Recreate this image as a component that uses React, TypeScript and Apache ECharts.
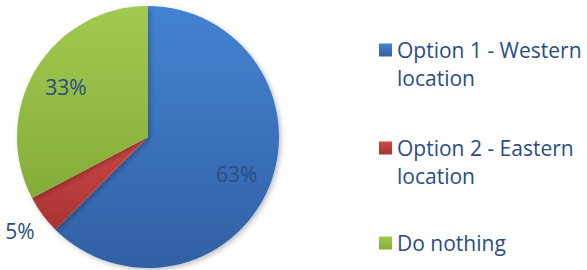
import React, { useEffect, useRef } from "react";
import * as echarts from "echarts";

// ---- data ----
const categories = [
  "Option 1 - Western location",
  "Option 2 - Eastern location",
  "Do nothing",
];
const legendLines = [
  ["Option 1 - Western", "location"],
  ["Option 2 - Eastern", "location"],
  ["Do nothing"],
];
const shares = [62.5, 4.8, 32.7];

// ---- styles ----
const sliceColors = [
  ["#4383D3", "#3260A4"],
  ["#CD4745", "#A83333"],
  ["#A2CA52", "#84AC38"],
];
const textColor = "#2A4D80";
const fontFamily = "'Open Sans', 'Liberation Sans', sans-serif";
const fontSize = 21;
const lineH = 28;
// which ring each slice's label sits on
const labelRing = [1, 2, 1];
const legendTops = [8, 106, 229];

const grad = (c: string[]) => ({
  type: "linear",
  x: 0,
  y: 0,
  x2: 0,
  y2: 1,
  colorStops: [
    { offset: 0, color: c[0] },
    { offset: 1, color: c[1] },
  ],
});

export default function App() {
  const ref = useRef<HTMLDivElement>(null);
  useEffect(() => {
    document.body.style.margin = "0";
    if (!ref.current) return;
    const chart = echarts.init(ref.current, null, { renderer: "svg" });
    const center = [148, 137];
    const fmt = (p: any) => Math.round(p.percent) + "%";

    const labelSeries = (ring: number, radius: number) => ({
      type: "pie",
      center,
      radius: [0, radius],
      silent: true,
      startAngle: 90,
      clockwise: true,
      emphasis: { disabled: true },
      labelLine: { show: false },
      itemStyle: { color: "transparent", borderWidth: 0 },
      data: categories.map((name, i) => ({
        name,
        value: shares[i],
        itemStyle: { color: "transparent" },
        label: {
          show: labelRing[i] === ring,
          position: "inside",
          formatter: fmt,
          color: textColor,
          fontFamily,
          fontSize,
        },
      })),
    });

    const option: any = {
      animation: false,
      legend: categories.map((name, i) => ({
        orient: "vertical",
        left: 379,
        top: legendTops[i],
        padding: 0,
        itemWidth: 13,
        itemHeight: 13,
        icon: "rect",
        selectedMode: false,
        formatter: () => {
          const lines = legendLines[i];
          const pad = Array(lines.length - 1).fill(" ");
          return [...pad, ...lines].join("\n");
        },
        textStyle: {
          color: textColor,
          fontFamily,
          fontSize,
          lineHeight: lineH,
        },
        data: [name],
      })),
      series: [
        {
          type: "pie",
          center,
          radius: [0, 131],
          startAngle: 90,
          clockwise: true,
          silent: true,
          label: { show: false },
          labelLine: { show: false },
          itemStyle: {
            borderWidth: 0,
            shadowBlur: 5,
            shadowOffsetX: 2,
            shadowOffsetY: 2,
            shadowColor: "rgba(0,0,0,0.25)",
          },
          data: categories.map((name, i) => ({
            name,
            value: shares[i],
            itemStyle: { color: grad(sliceColors[i]) },
          })),
        },
        labelSeries(1, 186),
        labelSeries(2, 312),
      ],
    };
    chart.setOption(option);
    return () => chart.dispose();
  }, []);
  return <div ref={ref} style={{ width: 587, height: 270 }} />;
}
